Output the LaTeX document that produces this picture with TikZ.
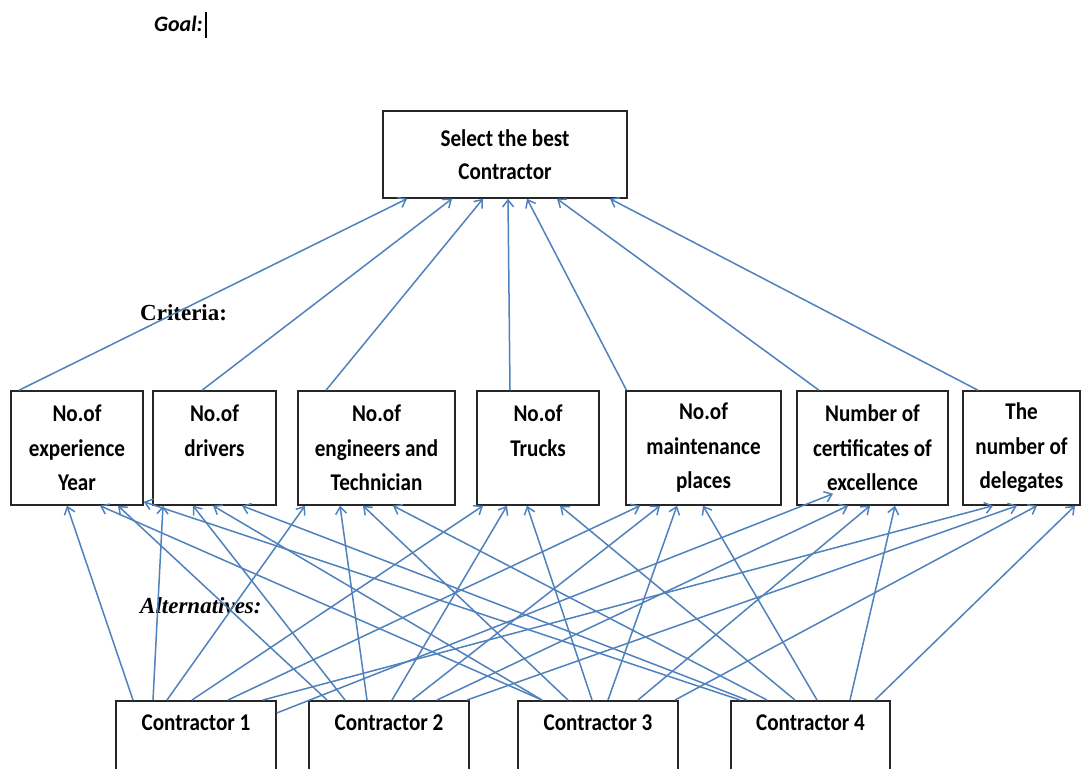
\documentclass[tikz,border=0pt]{standalone}
\usepackage{fontspec}
\setmainfont{Carlito}
\newfontfamily\boxfont{Carlito}[FakeStretch=0.88]
\newfontfamily\timesfont{Liberation Serif}
\usetikzlibrary{arrows.meta}
\definecolor{linkblue}{RGB}{79,129,189}

\begin{document}
\begin{tikzpicture}[x=1pt, y=-1pt,
        box/.style={draw=black!85, line width=1.5pt, align=center, inner sep=0pt,
            font=\boxfont\fontsize{24}{34.5}\selectfont\bfseries},
        crit/.style={box, minimum height=114},
        alt/.style={box, anchor=north, minimum width=160, text height=16, text depth=80, inner ysep=14},
        link/.style={linkblue, line width=1.5pt, -{Straight Barb[length=7pt,width=11pt]}},
        lbl/.style={inner sep=0pt}]
        \useasboundingbox (0,0) rectangle (1081,768);

        \node[lbl, anchor=base east, font=\fontsize{22}{26}\selectfont\bfseries\itshape] (goallbl) at (203,32) {Goal:};
        \draw[line width=2.2pt] (206,12) -- (206,38);
        \node[lbl, anchor=base west, font=\timesfont\fontsize{23}{27}\selectfont\bfseries] (critlbl) at (140,320) {Criteria:};
        \node[lbl, anchor=base west, font=\timesfont\fontsize{23}{27}\selectfont\bfseries\itshape] (altlbl) at (140,613) {Alternatives:};

        \node[box, minimum width=244, minimum height=87, font=\boxfont\fontsize{24}{33}\selectfont\bfseries] (goal) at (505,154.5) {Select the best\\Contractor};

        \node[crit, minimum width=132] (c1) at (77,448) {No.of\\experience\\Year};
        \node[crit, minimum width=123] (c2) at (214.5,448) {No.of\\drivers\\\phantom{x}};
        \node[crit, minimum width=157] (c3) at (376.5,448) {No.of\\engineers and\\Technician};
        \node[crit, minimum width=122] (c4) at (538,448) {No.of\\Trucks\\\phantom{x}};
        \node[crit, minimum width=155] (c5) at (703.5,448) {No.of\\maintenance\\places};
        \node[crit, minimum width=151] (c6) at (872.5,448) {Number of\\certificates of\\excellence};
        \node[crit, minimum width=117] (c7) at (1021.5,448) {The\\number of\\delegates};

        \node[alt] (a1) at (196,700) {Contractor 1};
        \node[alt] (a2) at (389,700) {Contractor 2};
        \node[alt] (a3) at (598,700) {Contractor 3};
        \node[alt, minimum width=159] (a4) at (810.5,700) {Contractor 4};

        % criteria -> goal
        \draw[link] ([xshift=-58]c1.north) -- ([xshift=-98]goal.south);
        \draw[link] ([xshift=-12.5]c2.north) -- ([xshift=-53]goal.south);
        \draw[link] ([xshift=-50.5]c3.north) -- ([xshift=-22]goal.south);
        \draw[link] ([xshift=-28]c4.north) -- ([xshift=3]goal.south);
        \draw[link] ([xshift=-77]c5.north) -- ([xshift=22]goal.south);
        \draw[link] ([xshift=-53.5]c6.north) -- ([xshift=52]goal.south);
        \draw[link] ([xshift=-43.5]c7.north) -- ([xshift=105]goal.south);

        % contractor 1
        \draw[link] ([xshift=-63]a1.north) -- ([xshift=-10]c1.south);
        \draw[link] ([xshift=-43]a1.north) -- ([xshift=-51.5]c2.south);
        \draw[link] ([xshift=-29]a1.north) -- ([xshift=-71.5]c3.south);
        \draw[link] ([xshift=-4]a1.north) -- ([xshift=-55]c4.south);
        \draw[link] ([xshift=32]a1.north) -- ([xshift=-63.5]c5.south);
        \draw[link] ([yshift=-13]a1.north east) -- ([xshift=-39.5,yshift=12]c6.south);
        \draw[link] ([xshift=67]a1.north) -- ([xshift=-28.5]c7.south);

        % contractor 2
        \draw[link] ([xshift=-62]a2.north) -- ([xshift=41]c1.south);
        \draw[link] ([xshift=-44]a2.north) -- ([xshift=-21.5]c2.south);
        \draw[link] ([xshift=-22]a2.north) -- ([xshift=-36.5]c3.south);
        \draw[link] ([xshift=3]a2.north) -- ([xshift=-31]c4.south);
        \draw[link] ([xshift=23]a2.north) -- ([xshift=-43.5]c5.south);
        \draw[link] ([xshift=48]a2.north) -- ([xshift=-24.5]c6.south);
        \draw[link] ([xshift=78]a2.north) -- ([xshift=-4.5]c7.south);

        % contractor 3
        \draw[link] ([xshift=-56]a3.north) -- ([xshift=23]c1.south);
        \draw[link] ([xshift=-56]a3.north) -- ([xshift=-1.5]c2.south);
        \draw[link] ([xshift=-30]a3.north) -- ([xshift=-13.5]c3.south);
        \draw[link] ([xshift=-6]a3.north) -- ([xshift=-11]c4.south);
        \draw[link] ([xshift=10]a3.north) -- ([xshift=-26.5]c5.south);
        \draw[link] ([xshift=40]a3.north) -- ([xshift=-2.5]c6.south);
        \draw[link] ([xshift=77]a3.north) -- ([xshift=15.5]c7.south);

        % contractor 4
        \draw[link] ([xshift=-70.5]a4.north) -- ([yshift=4]c1.south east);
        \draw[link] ([xshift=-63.5]a4.north) -- ([xshift=27.5]c2.south);
        \draw[link] ([xshift=-43.5]a4.north) -- ([xshift=16.5]c3.south);
        \draw[link] ([xshift=-15.5]a4.north) -- ([xshift=22]c4.south);
        \draw[link] ([xshift=6.5]a4.north) -- ([xshift=-0.5]c5.south);
        \draw[link] ([xshift=39.5]a4.north) -- ([xshift=22.5]c6.south);
        \draw[link] ([xshift=64.5]a4.north) -- ([xshift=53.5]c7.south);
\end{tikzpicture}
\end{document}
